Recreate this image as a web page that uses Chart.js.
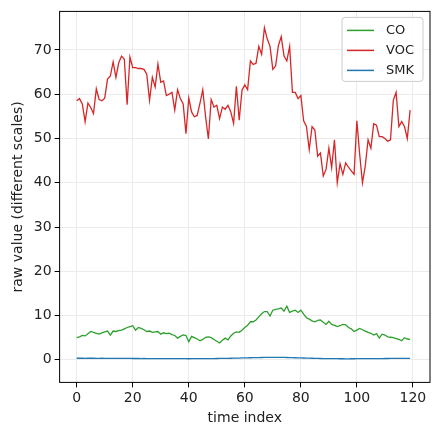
<!DOCTYPE html>
<html><head><meta charset="utf-8">
<script src="https://cdn.jsdelivr.net/npm/chart.js@4/dist/chart.umd.min.js"></script>
<style>html,body{margin:0;padding:0;background:#fff}#w{width:436px;height:429px}</style>
</head><body><div id="w"><canvas id="c"></canvas></div>
<script>
const voc=[58.5,59,57.8,53.8,58,57,55.6,61.2,58.8,58.5,59.1,63.4,64.1,67.3,63.8,67.1,68.6,67.9,57.6,68.4,66,66,65.8,65.8,65.6,64.5,58.6,63.8,61.6,66.8,62.7,63,59.7,60,60.4,56.4,61,59,57.8,51.1,59.1,56,54.9,55.2,58,61,54.9,49.9,58.8,57.1,57.5,54.5,57.1,56.6,57.5,56,53.4,61.8,54.1,60.9,62.1,61,67.5,66.7,67,70.8,69,75,72.5,70.8,65.6,66.4,71,73,68.6,67.5,70.8,60.4,60.4,59,59.7,54,52.7,47.5,52.7,51.9,46,46.7,41.5,43,47.8,43.4,49.7,40,44.3,41.9,44.5,43.5,42.7,41.9,54,46.4,40,43.8,49.7,47.8,53.3,53,50.4,50.4,50,49.4,49.7,58.6,60.4,52.7,53.8,52.7,50,56.4];
const co=[5.0,5.2,5.5,5.4,5.9,6.4,6.2,6.0,5.8,6.1,6.3,6.5,5.6,6.5,6.4,6.6,6.7,7.0,7.3,7.5,7.7,6.7,7.3,7.1,6.8,6.4,6.5,6.2,6.3,6.4,5.8,6.1,5.9,6.0,5.7,5.5,4.9,5.3,5.6,5.5,4.1,5.3,5.0,4.7,4.3,4.6,5.1,5.2,5.0,4.6,4.2,3.8,4.4,4.9,4.5,5.4,6.0,6.3,6.2,6.7,7.3,7.8,8.6,8.6,9.0,9.7,10.4,10.9,10.9,9.9,11.2,11.4,11.5,11.7,11.0,12.1,10.7,11.0,11.2,10.7,11.2,10.3,9.5,9.2,8.8,8.6,8.9,9.0,8.5,8.0,8.7,8.0,7.8,7.5,7.7,8.0,7.9,7.3,7.0,6.4,6.7,7.1,6.8,6.5,6.2,6.0,5.6,5.9,4.9,5.8,5.6,5.2,5.1,5.0,4.8,4.6,4.3,5.0,4.7,4.6];
const smk=[0.35,0.36,0.35,0.34,0.35,0.36,0.35,0.33,0.34,0.35,0.34,0.33,0.34,0.33,0.32,0.33,0.32,0.31,0.32,0.31,0.30,0.31,0.30,0.29,0.30,0.29,0.28,0.29,0.28,0.27,0.28,0.27,0.26,0.27,0.26,0.25,0.26,0.25,0.26,0.25,0.24,0.25,0.26,0.25,0.26,0.27,0.26,0.27,0.28,0.29,0.30,0.31,0.32,0.33,0.34,0.35,0.37,0.38,0.40,0.42,0.44,0.45,0.47,0.48,0.50,0.51,0.52,0.53,0.54,0.55,0.55,0.56,0.55,0.54,0.53,0.52,0.51,0.49,0.47,0.45,0.43,0.41,0.39,0.37,0.35,0.33,0.32,0.30,0.29,0.28,0.27,0.26,0.25,0.25,0.24,0.24,0.23,0.23,0.24,0.24,0.25,0.25,0.26,0.26,0.27,0.27,0.28,0.28,0.29,0.29,0.30,0.30,0.31,0.31,0.32,0.32,0.33,0.33,0.34,0.34];
const seriesNames=['CO','VOC','SMK'];
const colors=['#2ca02c','#d62728','#1f77b4'];
const xTicks=[0,20,40,60,80,100,120];
const yTicks=[0,10,20,30,40,50,60,70];
const pts=a=>a.map((v,i)=>({x:i,y:v}));
const frame={id:'frame',afterDraw(ch){const a=ch.chartArea,c=ch.ctx;c.save();c.strokeStyle='#000';c.lineWidth=1;c.strokeRect(a.left,a.top,a.right-a.left,a.bottom-a.top);
 const lx=a.right-88,ly=a.top+6,w=81,h=64;c.fillStyle='rgba(255,255,255,0.85)';c.strokeStyle='#ccc';c.beginPath();c.roundRect(lx,ly,w,h,3);c.fill();c.stroke();
 c.font='13px "DejaVu Sans"';c.textBaseline='middle';seriesNames.forEach((n,i)=>{const yy=ly+13+i*20;c.strokeStyle=colors[i];c.lineWidth=1.5;c.beginPath();c.moveTo(lx+5,yy);c.lineTo(lx+32,yy);c.stroke();c.fillStyle='#222';c.fillText(n,lx+44,yy);});c.restore();}};
new Chart(document.getElementById('c'),{type:'line',
data:{datasets:[{label:'CO',data:pts(co),borderColor:colors[0]},{label:'VOC',data:pts(voc),borderColor:colors[1]},{label:'SMK',data:pts(smk),borderColor:colors[2]}].map(d=>Object.assign(d,{borderWidth:1.3,pointRadius:0,tension:0,fill:false}))},
options:{responsive:true,maintainAspectRatio:false,animation:false,layout:{padding:{top:7,right:6,left:6,bottom:0}},
plugins:{legend:{display:false},tooltip:{enabled:false}},
scales:{x:{type:'linear',min:-6.1,max:126.1,afterBuildTicks:s=>{s.ticks=xTicks.map(v=>({value:v}))},grid:{color:'#ebebeb',tickColor:'#000',tickLength:5},border:{display:false},ticks:{color:'#222',font:{size:14,family:'DejaVu Sans'}},title:{display:true,text:'time index',color:'#222',font:{size:14,family:'DejaVu Sans'},padding:{top:0,bottom:2}}},
y:{min:-5.1,max:78.7,afterBuildTicks:s=>{s.ticks=yTicks.map(v=>({value:v}))},grid:{color:'#ebebeb',tickColor:'#000',tickLength:5},border:{display:false},ticks:{color:'#222',font:{size:14,family:'DejaVu Sans'}},title:{display:true,text:'raw value (different scales)',color:'#222',font:{size:14,family:'DejaVu Sans'}}}}},
plugins:[frame]});
</script></body></html>
